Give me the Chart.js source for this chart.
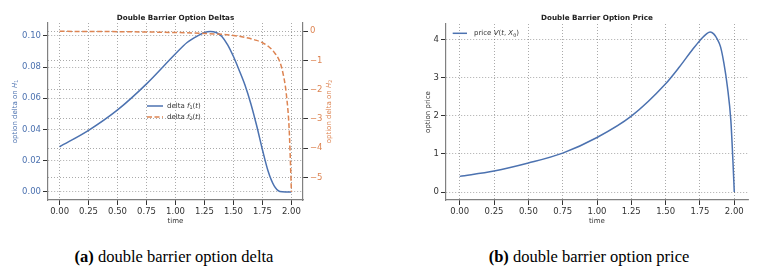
<!DOCTYPE html>
<html>
<head>
<meta charset="utf-8">
<script src="https://cdn.jsdelivr.net/npm/chart.js@4/dist/chart.umd.min.js"></script>
<style>
body{margin:0;background:#fff;width:759px;height:268px;position:relative;overflow:hidden}
canvas{position:absolute;top:0}
#c1{left:0}
#c2{left:380px}
.cap{position:absolute;top:247px;font-family:"Liberation Serif",serif;font-size:16.5px;color:#000;white-space:nowrap;transform:translateX(-50%)}
</style>
</head>
<body>
<canvas id="c1" width="380" height="235"></canvas>
<canvas id="c2" width="379" height="235"></canvas>
<div class="cap" style="left:174px"><b>(a)</b> double barrier option delta</div>
<div class="cap" style="left:589px"><b>(b)</b> double barrier option price</div>
<script>
// cores (seaborn deep)
const AZUL = "#4c72b0";
const LARANJA = "#dd8452";

// dados
const tempoTicks = [0, 0.25, 0.5, 0.75, 1.0, 1.25, 1.5, 1.75, 2.0];

const tDelta1 = [0, 0.25, 0.5, 0.75, 1.0, 1.1, 1.2, 1.25, 1.3, 1.35, 1.4, 1.45, 1.5, 1.55, 1.6, 1.65, 1.7, 1.75, 1.8, 1.85, 1.9, 1.95, 2.0];
const delta1 = [0.0289, 0.0394, 0.0525, 0.0692, 0.0885, 0.0957, 0.1003, 0.1021, 0.1028, 0.1021, 0.0996, 0.0942, 0.0867, 0.0778, 0.0683, 0.0565, 0.0425, 0.027, 0.013, 0.004, 0.0003, 0, 0];

const tDelta2 = [0, 0.5, 1.0, 1.25, 1.5, 1.6, 1.7, 1.75, 1.8, 1.85, 1.9, 1.925, 1.95, 1.96, 1.97, 1.98, 1.99, 2.0];
const delta2 = [-0.01, -0.02, -0.05, -0.08, -0.15, -0.22, -0.32, -0.4, -0.52, -0.72, -1.05, -1.4, -1.95, -2.3, -2.7, -3.3, -4.3, -5.5];

const tPreco = [0, 0.25, 0.5, 0.75, 1.0, 1.25, 1.5, 1.6, 1.7, 1.75, 1.8, 1.825, 1.85, 1.875, 1.9, 1.925, 1.95, 1.975, 1.99, 2.0];
const preco = [0.41, 0.55, 0.76, 1.02, 1.43, 1.99, 2.84, 3.28, 3.76, 3.98, 4.16, 4.2, 4.15, 4.02, 3.81, 3.37, 2.76, 1.88, 0.83, 0];

const delta1Ticks = [0, 0.02, 0.04, 0.06, 0.08, 0.10];
const delta2Ticks = [-5, -4, -3, -2, -1, 0];
const precoTicks = [0, 1, 2, 3, 4];

Chart.defaults.font.family = '"DejaVu Sans", sans-serif';
Chart.defaults.animation = false;

function pares(ts, vs) {
	return ts.map((t, i) => ({ x: t, y: vs[i] }));
}

// eixo linear com grade pontilhada e ticks fixos
function eixo(posicao, min, max, lista, corTexto, formato, tamanho) {
	return {
		type: "linear",
		position: posicao,
		min: min,
		max: max,
		afterBuildTicks: (s) => { s.ticks = lista.map((v) => ({ value: v })); },
		afterFit: (s) => {
			if (posicao === "bottom") s.height = tamanho;
			else s.width = tamanho;
		},
		grid: { color: "rgba(0,0,0,0.42)", lineWidth: 0.8, tickColor: "#333", tickLength: 5, tickWidth: 1 },
		border: { display: true, color: "#808080", width: 1.2, dash: [1, 2] },
		ticks: { color: corTexto, font: { size: 8.5 }, padding: 2, autoSkip: false, maxRotation: 0, callback: formato },
	};
}

function menos(v) {
	return v < 0 ? "\u2212" + Math.abs(v) : String(v);
}

function textoRico(ctx, partes, x, y, tam, cor, alinhar, rot) {
	ctx.save();
	ctx.translate(x, y);
	if (rot) ctx.rotate(rot);
	ctx.fillStyle = cor;
	ctx.textBaseline = "middle";
	ctx.textAlign = "left";
	const fonte = (p) => (p.b ? "bold " : "") + (p.i ? "italic " : "") + (p.s ? tam * 0.7 : tam) + 'px "DejaVu Sans"';
	let larg = 0;
	partes.forEach((p) => { ctx.font = fonte(p); p.w = ctx.measureText(p.t).width; larg += p.w; });
	let cx = alinhar === "center" ? -larg / 2 : 0;
	partes.forEach((p) => { ctx.font = fonte(p); ctx.fillText(p.t, cx, p.s ? tam * 0.28 : 0); cx += p.w; });
	ctx.restore();
}

function linhaLegenda(ctx, x1, x2, y, cor, tracejado) {
	ctx.save();
	ctx.strokeStyle = cor;
	ctx.lineWidth = 1.5;
	ctx.setLineDash(tracejado || []);
	ctx.beginPath();
	ctx.moveTo(x1, y);
	ctx.lineTo(x2, y);
	ctx.stroke();
	ctx.restore();
}

// textos do gráfico (a)
const textos1 = {
	id: "textos1",
	afterDraw(chart) {
		const ctx = chart.ctx;
		const a = chart.chartArea;
		const meio = (a.left + a.right) / 2;
		textoRico(ctx, [{ t: "Double Barrier Option Deltas", b: 1 }], meio, 18, 7.2, "#222", "center");
		textoRico(ctx, [{ t: "time" }], meio, 221, 7, "#333", "center");
		textoRico(ctx, [{ t: "option delta on " }, { t: "H", i: 1 }, { t: "1", s: 1 }], 15, (a.top + a.bottom) / 2, 7, AZUL, "center", -Math.PI / 2);
		textoRico(ctx, [{ t: "option delta on " }, { t: "H", i: 1 }, { t: "2", s: 1 }], 329, (a.top + a.bottom) / 2, 7, LARANJA, "center", -Math.PI / 2);
		linhaLegenda(ctx, 147, 163, 106, AZUL);
		linhaLegenda(ctx, 147, 163, 117, LARANJA, [5, 2.5]);
		textoRico(ctx, [{ t: "delta " }, { t: "f", i: 1 }, { t: "1", s: 1 }, { t: "(" }, { t: "t", i: 1 }, { t: ")" }], 167, 106, 7, "#333", "left");
		textoRico(ctx, [{ t: "delta " }, { t: "f", i: 1 }, { t: "2", s: 1 }, { t: "(" }, { t: "t", i: 1 }, { t: ")" }], 167, 117, 7, "#333", "left");
	},
};

new Chart(document.getElementById("c1"), {
	type: "line",
	data: {
		datasets: [
			{
				data: pares(tDelta1, delta1),
				yAxisID: "y",
				borderColor: AZUL,
				borderWidth: 1.5,
				pointRadius: 0,
				cubicInterpolationMode: "monotone",
				order: 1,
			},
			{
				data: pares(tDelta2, delta2),
				yAxisID: "y2",
				borderColor: LARANJA,
				borderWidth: 1.5,
				borderDash: [5, 2.5],
				pointRadius: 0,
				cubicInterpolationMode: "monotone",
				order: 0,
			},
		],
	},
	options: {
		responsive: false,
		layout: { padding: { top: 23, left: 0, right: 0, bottom: 0 } },
		plugins: { legend: { display: false }, tooltip: { enabled: false } },
		scales: {
			x: eixo("bottom", -0.1, 2.1, tempoTicks, "#333", (v) => v.toFixed(2), 35),
			y: eixo("left", -0.0052, 0.1082, delta1Ticks, AZUL, (v) => v.toFixed(2), 48),
			y2: eixo("right", -5.775, 0.275, delta2Ticks, LARANJA, menos, 77),
		},
	},
	plugins: [textos1],
});

// textos do gráfico (b)
const textos2 = {
	id: "textos2",
	afterDraw(chart) {
		const ctx = chart.ctx;
		const a = chart.chartArea;
		const meio = (a.left + a.right) / 2;
		textoRico(ctx, [{ t: "Double Barrier Option Price", b: 1 }], meio, 18, 7.2, "#222", "center");
		textoRico(ctx, [{ t: "time" }], meio, 221, 7, "#333", "center");
		textoRico(ctx, [{ t: "option price" }], 48, (a.top + a.bottom) / 2, 7, "#333", "center", -Math.PI / 2);
		linhaLegenda(ctx, 72.7, 87, 33.3, AZUL);
		textoRico(ctx, [{ t: "price " }, { t: "V", i: 1 }, { t: "(" }, { t: "t", i: 1 }, { t: ", " }, { t: "X", i: 1 }, { t: "0", s: 1 }, { t: ")" }], 94, 33.3, 7, "#333", "left");
	},
};

new Chart(document.getElementById("c2"), {
	type: "line",
	data: {
		datasets: [
			{
				data: pares(tPreco, preco),
				borderColor: AZUL,
				borderWidth: 1.5,
				pointRadius: 0,
				cubicInterpolationMode: "monotone",
			},
		],
	},
	options: {
		responsive: false,
		layout: { padding: { top: 24, left: 0, right: 11, bottom: 0 } },
		plugins: { legend: { display: false }, tooltip: { enabled: false } },
		scales: {
			x: eixo("bottom", -0.1, 2.1, tempoTicks, "#333", (v) => v.toFixed(2), 35),
			y: eixo("left", -0.21, 4.41, precoTicks, "#333", (v) => String(v), 66),
		},
	},
	plugins: [textos2],
});
</script>
</body>
</html>
